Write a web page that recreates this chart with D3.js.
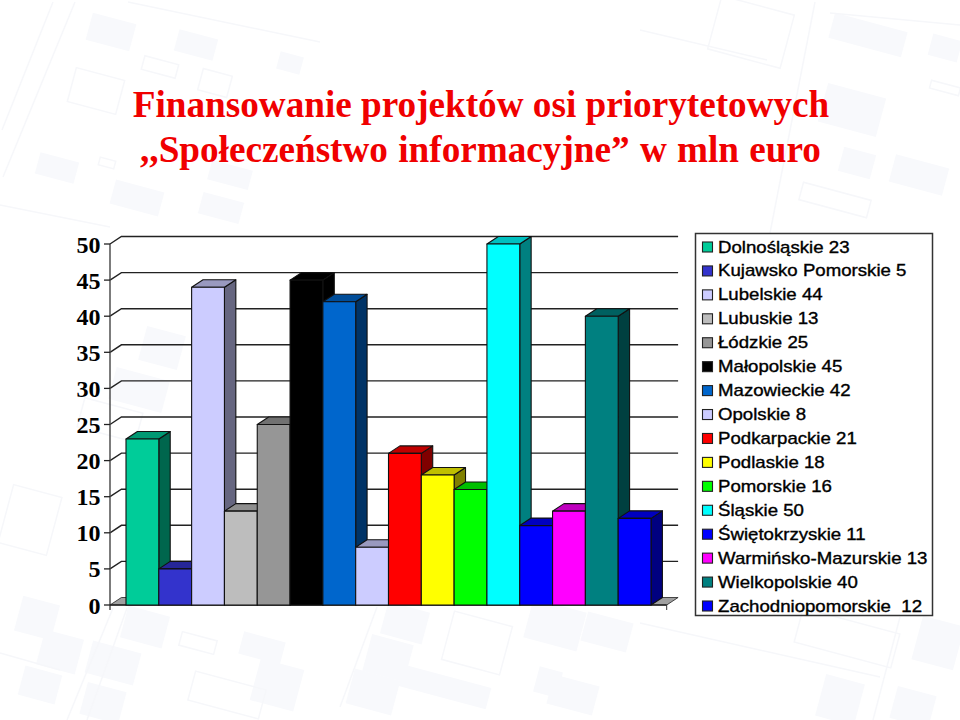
<!DOCTYPE html>
<html><head><meta charset="utf-8"><script src="https://cdn.jsdelivr.net/npm/d3@7"></script>
<style>html,body{margin:0;padding:0;background:#fff}svg{display:block}</style></head><body><svg id="c" width="960" height="720"></svg>
<script>
const titleLine1="Finansowanie projektów osi priorytetowych";
const titleLine2=",,Społeczeństwo informacyjne” w mln euro";
const regions=["Dolnośląskie","Kujawsko Pomorskie","Lubelskie","Lubuskie","Łódzkie","Małopolskie","Mazowieckie","Opolskie","Podkarpackie","Podlaskie","Pomorskie","Śląskie","Świętokrzyskie","Warmińsko-Mazurskie","Wielkopolskie","Zachodniopomorskie "];
const values=[23,5,44,13,25,45,42,8,21,18,16,50,11,13,40,12];
const colors=["#00CC99","#3333CC","#CCCCFF","#BDBDBD","#969696","#000000","#0066CC","#CCCCFF","#FF0000","#FFFF00","#00FF00","#00FFFF","#0000FF","#FF00FF","#008080","#0000FF"];
const yTicks=[0,5,10,15,20,25,30,35,40,45,50];
// faint street-map backdrop: [cx,cy,w,h]
const bgBlocks=[[111,32,45,28],[196,45,40,22],[290,63,24,18],[57,168,40,22],[137,198,50,25],[221,208,42,22],[230,175,42,20],[868,35,75,26],[945,48,30,22],[852,110,60,40],[857,163,33,25],[919,175,55,28],[37,618,38,36],[60,652,40,36],[40,685,38,30],[113,663,50,33],[103,703,40,33],[145,627,43,33],[277,685,45,43],[262,648,43,23],[405,623,43,33],[388,658,43,38],[373,692,47,36],[445,687,90,22],[555,625,55,40],[607,632,47,30],[548,682,24,26],[573,695,47,30],[938,643,43,45],[840,700,40,43],[913,707,40,33],[162,348,40,35],[139,390,55,33]];
const bgOutlines=[[96,91,50,35],[160,67,35,14],[215,83,30,22],[107,163,16,8],[751,32,75,55],[945,88,30,8],[835,200,70,18],[30,520,50,60],[198,643,36,14],[227,695,73,30],[477,643,60,50],[847,638,100,35],[110,420,60,30]];
const bgRoads=[[53,2,2,130],[75,2,3,177],[128,2,320,42],[0,205,110,227],[815,2,770,233],[640,30,767,60],[830,13,960,25],[127,608,87,720],[113,608,67,720],[377,607,340,707],[640,623,880,677],[900,617,873,720],[0,653,60,670]];
const svg=d3.select("#c");
const bg=svg.append("g");
bg.selectAll("rect.b").data(bgBlocks).join("rect").attr("class","b").attr("fill","#f8f9fc").attr("x",d=>d[0]-d[2]/2).attr("y",d=>d[1]-d[3]/2).attr("width",d=>d[2]).attr("height",d=>d[3]).attr("transform",d=>`rotate(15 ${d[0]} ${d[1]})`);
bg.selectAll("rect.o").data(bgOutlines).join("rect").attr("class","o").attr("fill","none").attr("stroke","#f6f7fa").attr("stroke-width",1.5).attr("x",d=>d[0]-d[2]/2).attr("y",d=>d[1]-d[3]/2).attr("width",d=>d[2]).attr("height",d=>d[3]).attr("transform",d=>`rotate(15 ${d[0]} ${d[1]})`);
bg.selectAll("line").data(bgRoads).join("line").attr("x1",d=>d[0]).attr("y1",d=>d[1]).attr("x2",d=>d[2]).attr("y2",d=>d[3]).attr("stroke","#f6f7fa").attr("stroke-width",1.5);

const y=d3.scaleLinear().domain([0,50]).range([605,244]);
const x=d3.scaleBand().domain(regions).range([126,651]);
const dx=11.4,dy=7.5,x0=110,x1=666.7;
const g=svg.append("g");
g.append("path").attr("d",`M${x0},605L${x0+dx},${605-dy}L${x1+dx},${605-dy}L${x1},605Z`).attr("fill","#a0a0a0").attr("stroke","#222").attr("stroke-width",.8);
yTicks.slice(1).forEach(t=>{
 g.append("path").attr("d",`M${x0},${y(t)}L${x0+dx},${y(t)-dy}L${x1+dx},${y(t)-dy}`).attr("fill","none").attr("stroke","#222").attr("stroke-width",1.4);
});
g.append("line").attr("x1",x0).attr("x2",x0).attr("y1",y(50)).attr("y2",610).attr("stroke","#444").attr("stroke-width",1.4);
g.append("line").attr("x1",x0).attr("x2",x1).attr("y1",605).attr("y2",605).attr("stroke","#222").attr("stroke-width",1.3);
g.append("line").attr("x1",x1).attr("x2",x1).attr("y1",605).attr("y2",610).attr("stroke","#333").attr("stroke-width",1);
yTicks.forEach(t=>{
 g.append("line").attr("x1",x0-6).attr("x2",x0).attr("y1",y(t)).attr("y2",y(t)).attr("stroke","#222").attr("stroke-width",1.3);
 g.append("text").attr("x",100.5).attr("y",y(t)+8.5).attr("text-anchor","end").attr("font-family","Liberation Serif").attr("font-weight","bold").attr("font-size",24).attr("fill","#000").text(t);
});
regions.forEach((r,i)=>{
 const xl=x(r),xr=xl+x.bandwidth(),yt=y(values[i]),c=d3.rgb(colors[i]);
 const shade=k=>d3.rgb(c.r*k,c.g*k,c.b*k).formatHex();
 const b=g.append("g").attr("stroke","#111").attr("stroke-width",1.1).attr("stroke-linejoin","round");
 b.append("path").attr("d",`M${xr},605L${xr+dx},${605-dy}L${xr+dx},${yt-dy}L${xr},${yt}Z`).attr("fill",shade(.5));
 b.append("path").attr("d",`M${xl},${yt}L${xl+dx},${yt-dy}L${xr+dx},${yt-dy}L${xr},${yt}Z`).attr("fill",shade(.75));
 b.append("rect").attr("x",xl).attr("y",yt).attr("width",x.bandwidth()).attr("height",605-yt).attr("fill",colors[i]);
});
const tg=svg.append("g").attr("font-family","Liberation Serif").attr("font-weight","bold").attr("font-size",37.2).attr("fill","#f00000").attr("text-anchor","middle");
tg.append("text").attr("x",481).attr("y",117).text(titleLine1);
tg.append("text").attr("x",480.5).attr("y",162).attr("word-spacing",1).text(titleLine2);
const lg=svg.append("g");
lg.append("rect").attr("x",695.5).attr("y",233.5).attr("width",237).attr("height",382).attr("fill","none").attr("stroke","#333").attr("stroke-width",1.5);
const ly=d3.scalePoint().domain(regions).range([247,606]);
regions.forEach((r,i)=>{
 lg.append("rect").attr("x",702.5).attr("y",ly(r)-5).attr("width",10).attr("height",10).attr("fill",colors[i]).attr("stroke","#222").attr("stroke-width",1.1);
 lg.append("text").attr("transform",`translate(718,${ly(r)+5.5}) scale(1.165,1)`).attr("font-family","Liberation Sans").attr("font-size",16).attr("fill","#000").attr("stroke","#000").attr("stroke-width",.35).style("white-space","pre").text(r+" "+values[i]);
});
</script></body></html>
